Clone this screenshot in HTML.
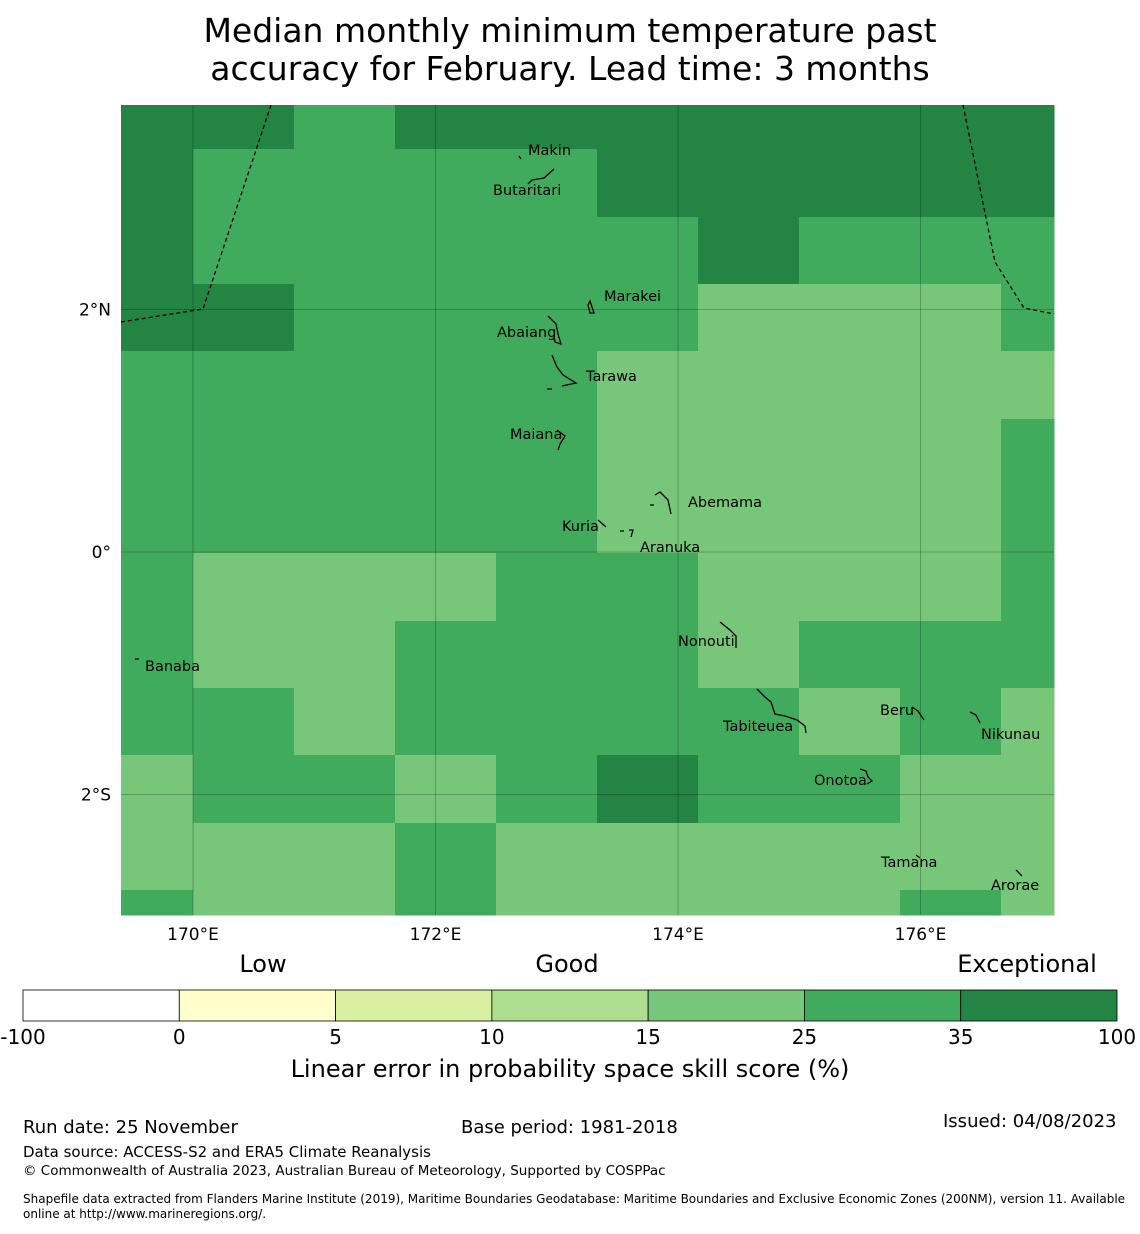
<!DOCTYPE html>
<html><head><meta charset="utf-8"><style>
body{margin:0;background:#fff;width:1140px;height:1230px;overflow:hidden;font-family:"DejaVu Sans","Liberation Sans",sans-serif}
</style></head><body>
<svg id="s" width="1140" height="1230" xmlns="http://www.w3.org/2000/svg" font-family="DejaVu Sans, Liberation Sans, sans-serif">
<text x="570" y="42" text-anchor="middle" font-size="33">Median monthly minimum temperature past</text>
<text x="570" y="80" text-anchor="middle" font-size="33">accuracy for February. Lead time: 3 months</text>
<g id="cells"></g>
<g id="grid"></g>
<g fill="none" stroke="#000" stroke-width="1.3" stroke-dasharray="4,3">
<polyline points="121,322 203,309 271,105"/>
<polyline points="963,105 995,262 1024,308 1054,314"/>
</g>
<g fill="none" stroke="#000" stroke-width="1.3">
<path d="M519,156 l2,3 M528,184 l4,-4 l12,-2 l10,-9 M548,316 l8,8 l2,10 l3,10 l-6,-2 l-1,-6 M588,305 l2,-4 l4,12 l-4,0 z M552,355 l5,12 l6,8 l13,8 l-14,3 M547,389 l5,0 M557,430 l8,6 l-5,8 l-2,6 M655,495 l5,-3 l8,8 l3,14 M650,505 l4,0 M598,520 l8,7 M620,531 l4,0 M629,530 l4,0 l-2,7 M720,622 l10,8 l6,6 l0,12 M757,689 l8,8 l6,5 l4,12 l10,2 l12,4 l8,6 l1,7 M912,707 l6,4 l6,9 M970,712 l6,3 l4,8 M860,769 l6,2 l2,6 l4,4 l-5,3 M916,855 l4,3 M1016,870 l6,6 M135,659 l4,0"/>
</g>
<g font-size="14.5">
<text x="528" y="155">Makin</text>
<text x="493" y="195">Butaritari</text>
<text x="604" y="301">Marakei</text>
<text x="497" y="337">Abaiang</text>
<text x="586" y="381">Tarawa</text>
<text x="510" y="439">Maiana</text>
<text x="688" y="507">Abemama</text>
<text x="562" y="531">Kuria</text>
<text x="640" y="552">Aranuka</text>
<text x="678" y="646">Nonouti</text>
<text x="145" y="671">Banaba</text>
<text x="880" y="715">Beru</text>
<text x="723" y="731">Tabiteuea</text>
<text x="981" y="739">Nikunau</text>
<text x="814" y="785">Onotoa</text>
<text x="881" y="867">Tamana</text>
<text x="991" y="890">Arorae</text>
</g>
<g id="ticks" font-size="17"></g>
<g font-size="24">
<text x="263" y="972" text-anchor="middle">Low</text>
<text x="567" y="972" text-anchor="middle">Good</text>
<text x="1027" y="972" text-anchor="middle">Exceptional</text>
</g>
<g id="cbar"></g>
<text x="570" y="1077" text-anchor="middle" font-size="24">Linear error in probability space skill score (%)</text>
<g font-size="18">
<text x="23" y="1133">Run date: 25 November</text>
<text x="461" y="1133">Base period: 1981-2018</text>
<text x="943" y="1127">Issued: 04/08/2023</text>
<text x="23" y="1157" font-size="15">Data source: ACCESS-S2 and ERA5 Climate Reanalysis</text>
<text x="23" y="1175" font-size="13.5">© Commonwealth of Australia 2023, Australian Bureau of Meteorology, Supported by COSPPac</text>
<text x="23" y="1203" font-size="12">Shapefile data extracted from Flanders Marine Institute (2019), Maritime Boundaries Geodatabase: Maritime Boundaries and Exclusive Economic Zones (200NM), version 11. Available</text>
<text x="23" y="1218" font-size="12">online at http://www.marineregions.org/.</text>
</g>
</svg>
<script>
const colEdges=[121,193,294,395,496,597,698,799,900,1001,1054];
const rowEdges=[105,149,217,284,351,419,486,553,621,688,755,823,890,915];
const skillRows=[
"DDMDDDDDDD","DMMMMDDDDD","DMMMMMDMMM","DDMMMMLLLM","MMMMMLLLLL","MMMMMLLLLM",
"MMMMMLLLLM","MLLLMMLLLM","MLLMMMLMMM","MMLMMMMLML","LMMLMDMMLL","LLLMLLLLLL","MLLMLLLLML"];
const levelColors={L:"#78c679",M:"#41ab5d",D:"#238443"};
const lonTicks=[170,172,174,176];
const latTicks=[2,0,-2];
const cbarBounds=["-100","0","5","10","15","25","35","100"];
const cbarColors=["#ffffff","#ffffcc","#d9f0a3","#addd8e","#78c679","#41ab5d","#238443"];
const NS="http://www.w3.org/2000/svg";
const xLon=l=>193+(l-170)*121.25, yLat=l=>552-l*121.25;
function mk(t,a,p){const e=document.createElementNS(NS,t);for(const k in a)e.setAttribute(k,a[k]);p.appendChild(e);return e;}
const cells=document.getElementById('cells');
skillRows.forEach((row,r)=>[...row].forEach((v,c)=>{
 const e=mk('rect',{x:colEdges[c],y:rowEdges[r],width:colEdges[c+1]-colEdges[c]+0.5,height:rowEdges[r+1]-rowEdges[r]+0.5,fill:levelColors[v]},cells);
 
 
}));
const g=document.getElementById('grid'),tk=document.getElementById('ticks');
lonTicks.forEach(l=>{const x=xLon(l);
 const ln=mk('line',{x1:x,x2:x,y1:105,y2:915,stroke:'#000','stroke-opacity':0.3,'stroke-width':0.8},g);
 
 
 const t=mk('text',{x:x,y:940,'text-anchor':'middle'},tk);t.textContent=l+'°E';
 
 });
latTicks.forEach(l=>{const y=yLat(l);
 const ln=mk('line',{x1:121,x2:1054,y1:y,y2:y,stroke:'#000','stroke-opacity':0.3,'stroke-width':0.8},g);
 
 
 const t=mk('text',{x:111,y:y+6,'text-anchor':'end'},tk);t.textContent=l===0?'0°':Math.abs(l)+'°'+(l>0?'N':'S');
 
 });
const cb=document.getElementById('cbar');const w=(1117-23)/cbarColors.length;
cbarColors.forEach((c,i)=>{const e=mk('rect',{x:23+i*w,y:990,width:w,height:31,fill:c,stroke:'#000','stroke-width':0.8},cb);
 
 });
cbarBounds.forEach((b,i)=>{const t=mk('text',{x:23+i*w,y:1044,'text-anchor':'middle','font-size':20},cb);t.textContent=b;
 
 });
</script>
</body></html>
